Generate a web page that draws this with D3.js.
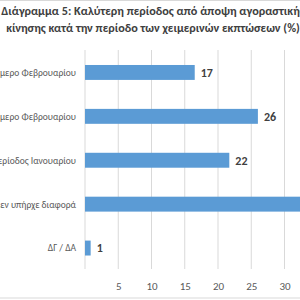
<!DOCTYPE html>
<html><head><meta charset="utf-8">
<script src="https://cdn.jsdelivr.net/npm/d3@7"></script>
<style>body{margin:0;background:#fff}svg{display:block}</style>
</head><body>
<svg id="c" width="300" height="300"></svg>
<script>
const categories = [
  "Δεύτερο δεκαπενθήμερο Φεβρουαρίου",
  "Πρώτο δεκαπενθήμερο Φεβρουαρίου",
  "Περίοδος Ιανουαρίου",
  "Δεν υπήρχε διαφορά",
  "ΔΓ / ΔΑ"
];
const values = [16.5, 26, 21.7, 34, 0.85];
const tickValues = [0, 5, 10, 15, 20, 25, 30, 35];
const titleLines = [
  "Διάγραμμα 5: Καλύτερη περίοδος από άποψη αγοραστικής",
  "κίνησης κατά την περίοδο των χειμερινών εκπτώσεων (%)"
];

const svg = d3.select("#c");
svg.append("rect").attr("x",-5).attr("y",0.5).attr("width",310).attr("height",297.5)
  .attr("fill","#fff").attr("stroke","#d9d9d9");

const font = "Calibri, Carlito, 'Open Sans', sans-serif";
const x = d3.scaleLinear().domain([0, 30]).range([85, 284.5]);
const y = d3.scaleBand().domain(categories).range([50.5, 270]).paddingInner(0.66).paddingOuter(0.33);

const grid = svg.append("g");
grid.selectAll("line").data(tickValues).join("line")
  .attr("x1", d => x(d)).attr("x2", d => x(d))
  .attr("y1", 50).attr("y2", 269)
  .attr("stroke", "#d9d9d9").attr("stroke-width", 1);

svg.append("g").selectAll("rect").data(values).join("rect")
  .attr("x", x(0)).attr("y", (d,i) => y(categories[i]))
  .attr("width", d => x(d) - x(0)).attr("height", y.bandwidth())
  .attr("fill", "#5b9bd5");

svg.append("g").selectAll("text").data(values).join("text")
  .attr("x", d => x(d) + 6).attr("y", (d,i) => y(categories[i]) + y.bandwidth()/2)
  .attr("dy", "0.36em")
  .attr("font-family", font).attr("font-size", 12).attr("font-weight", "bold")
  .attr("fill", "#404040")
  .text(d => d3.format(".0f")(d));

svg.append("g").selectAll("text").data(categories).join("text")
  .attr("x", 76).attr("y", d => y(d) + y.bandwidth()/2)
  .attr("dy", "0.36em").attr("text-anchor", "end")
  .attr("font-family", font).attr("font-size", 9.5)
  .attr("fill", "#595959")
  .text(d => d);

const xAxis = d3.axisBottom(x).tickValues(tickValues.filter(d => d > 0)).tickSize(0).tickPadding(0);
const ax = svg.append("g").attr("transform", "translate(0,282)").call(xAxis);
ax.select(".domain").remove();
ax.selectAll("text").attr("font-family", font).attr("font-size", 11).attr("fill", "#595959");

svg.append("g").selectAll("text").data(titleLines).join("text")
  .attr("x", 153).attr("y", (d,i) => 15 + i*17)
  .attr("text-anchor", "middle")
  .attr("font-family", font).attr("font-size", 12.2).attr("font-weight", "bold")
  .attr("fill", "#404040")
  .text(d => d);
</script>
</body></html>
